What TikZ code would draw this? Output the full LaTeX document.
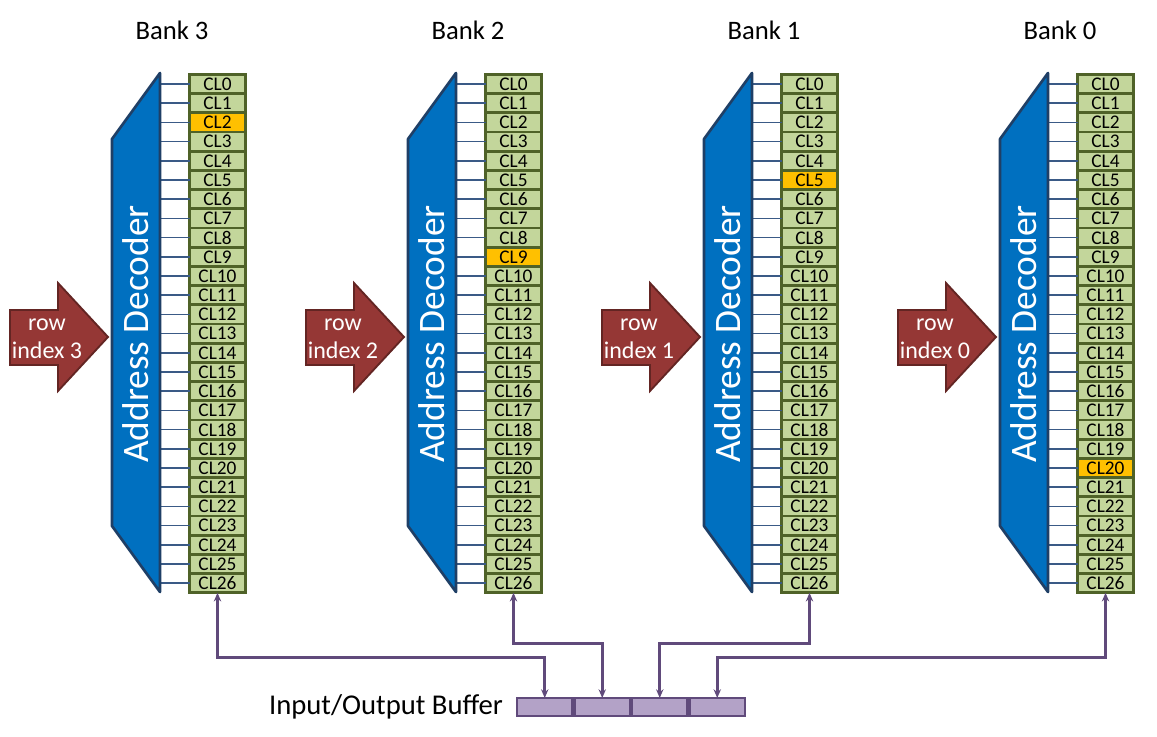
\documentclass[tikz,border=0pt]{standalone}
\usepackage{fontspec}
\setmainfont{Carlito}
\usepackage{tikz}
\usetikzlibrary{positioning, calc, arrows.meta}

\definecolor{verde}{HTML}{C3D69B}
\definecolor{oliva}{HTML}{4F6228}
\definecolor{laranja}{HTML}{FFC000}
\definecolor{azul}{HTML}{0070C0}
\definecolor{azulescuro}{HTML}{1F3F66}
\definecolor{fiocor}{HTML}{3A5A86}
\definecolor{vermelho}{HTML}{953735}
\definecolor{vermelhoesc}{HTML}{632523}
\definecolor{roxo}{HTML}{604A7B}
\definecolor{lilas}{HTML}{B3A2C7}

\begin{document}
\begin{tikzpicture}[x=0.75pt, y=-0.75pt, >={Stealth[length=6.5pt, width=5.5pt]},
    cell/.style={draw=oliva, fill=verde, line width=2.2pt, minimum width=42pt,
                 minimum height=14.4pt, inner sep=0pt, outer sep=0pt,
                 font=\fontsize{14.5}{15}\selectfont},
    fio/.style={draw=fiocor, line width=1.1pt},
    decoder/.style={draw=azulescuro, fill=azul, line width=2pt, line join=round},
    dectext/.style={rotate=90, text=white, font=\fontsize{28}{30}\selectfont},
    seta/.style={draw=vermelhoesc, fill=vermelho, line width=1.4pt},
    rotulo/.style={text=white, align=center, font=\fontsize{18}{21}\selectfont},
    banco/.style={font=\fontsize{20}{22}\selectfont},
    buf/.style={draw=roxo, fill=lilas, line width=2.2pt, minimum width=41.6pt,
                minimum height=13.5pt, inner sep=0pt, outer sep=0pt},
    barramento/.style={draw=roxo, line width=2.2pt, <->}]
\useasboundingbox (0,0) rectangle (1157,737);

% bancos: numero / deslocamento / linha marcada
\foreach \b/\dx/\m in {3/0/2, 2/296/9, 1/592/5, 0/888/20} {
  \node[banco] (bank\b) at ({172+\dx},30) {Bank \b};
  \coordinate (d\b) at ({160+\dx},73);
  \foreach \i in {0,...,26} {
    \ifnum\i=\m \def\cor{laranja}\else\def\cor{verde}\fi
    \node[cell, fill=\cor] (c\b-\i) at ({217.5+\dx},{84+19.2*\i}) {CL\i};
    \draw[fio] (c\b-\i.west) -- (c\b-\i.west -| d\b);
  }
  \draw[decoder] (d\b) -- ({160+\dx},592) -- ({112+\dx},526)
                 -- ({112+\dx},139) -- cycle;
  \node[dectext] (dec\b) at ({136+\dx},334) {Address Decoder};
  \draw[seta] ({10+\dx},310) -- ({58+\dx},310) -- ({58+\dx},283) -- ({108+\dx},337)
              -- ({58+\dx},391) -- ({58+\dx},365) -- ({10+\dx},365) -- cycle;
  \node[rotulo] (row\b) at ({47+\dx},339) {row\\index \b};
}

% buffer
\foreach \k/\x in {0/544.75, 1/602.25, 2/659.75, 3/717.25}
  \node[buf] (buf\k) at (\x,707) {};
\node[font=\fontsize{21.5}{24}\selectfont, left=7pt of buf0] (io) {Input/Output Buffer};

\draw[barramento] (c3-26.south) -- ++(0,65) -| (buf0.north);
\draw[barramento] (c2-26.south) -- ++(0,51) -| (buf1.north);
\draw[barramento] (c1-26.south) -- ++(0,51) -| (buf2.north);
\draw[barramento] (c0-26.south) -- ++(0,65) -| (buf3.north);
\end{tikzpicture}
\end{document}
